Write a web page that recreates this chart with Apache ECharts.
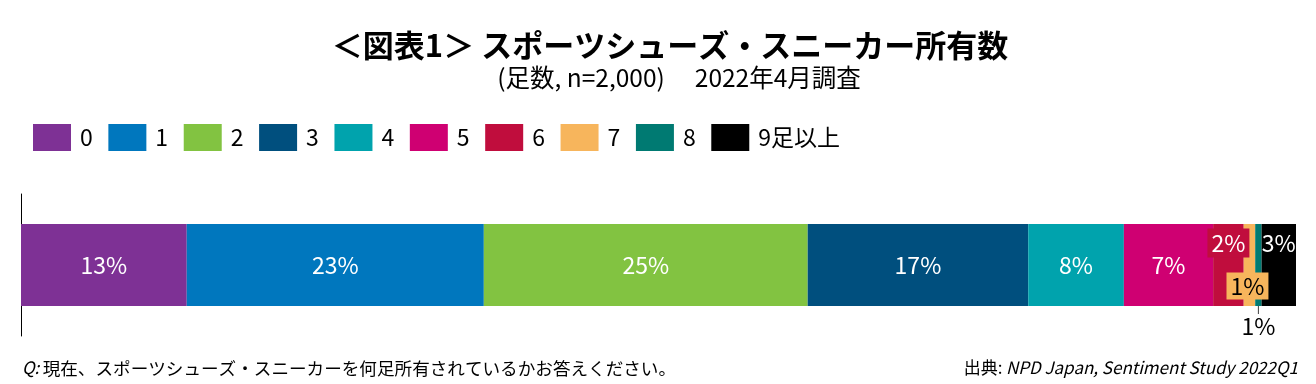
<!DOCTYPE html>
<html><head><meta charset="utf-8">
<script src="https://cdn.jsdelivr.net/npm/echarts@6/dist/echarts.min.js"></script>
<style>html,body{margin:0;padding:0;background:#fff}#c{width:1316px;height:384px}</style>
</head><body><div id="c"></div>
<script>
// ---- data ----
const categories = ['0', '1', '2', '3', '4', '5', '6', '7', '8', '9足以上'];
const values = [13.0, 23.3, 25.4, 17.3, 7.5, 7.0, 2.4, 0.9, 0.5, 2.7];
const rowNames = ['所有数'];
const titleText = '＜図表1＞ スポーツシューズ・スニーカー所有数';
const subtitleText = '(足数, n=2,000)　 2022年4月調査';
const questionText = '現在、スポーツシューズ・スニーカーを何足所有されているかお答えください。';
const sourceText = 'NPD Japan, Sentiment Study 2022Q1';

// ---- style ----
const colors = ['#7E3195', '#0077BE', '#82C341', '#004F7E', '#00A3AD', '#CF0072', '#C00D3D', '#F7B55C', '#007A72', '#000000'];
const FONT = '"Noto Sans CJK JP", "Noto Sans", sans-serif';

function labelFor(i) {
  const base = {
    show: true, position: 'inside', color: '#fff', fontSize: 23, fontFamily: FONT,
    formatter: p => Math.round(p.value) + '%'
  };
  if (i === 6) return Object.assign(base, { offset: [0, -22], backgroundColor: colors[6], padding: [3, 4, 3, 4] });
  if (i === 7) return Object.assign(base, { offset: [-2, 21], backgroundColor: colors[7], color: '#000', padding: [2, 4, 2, 4] });
  if (i === 8) return Object.assign(base, {
    position: 'bottom', distance: 0, color: '#000',
    formatter: p => '{l|}\n{t|' + Math.round(p.value) + '%}',
    rich: { l: { width: 1, height: 8, backgroundColor: '#404040' }, t: { fontSize: 23, color: '#000', fontFamily: FONT, lineHeight: 24 } }
  });
  if (i === 9) return Object.assign(base, { offset: [0, -22] });
  return base;
}

const chart = echarts.init(document.getElementById('c'), null, { renderer: 'canvas' });
chart.setOption({
  animation: false,
  color: colors,
  legend: {
    left: 28, top: 119, itemWidth: 38, itemHeight: 27, itemGap: 15.6,
    icon: 'rect',
    textStyle: { fontSize: 23, fontFamily: FONT, color: '#000', padding: [0, 0, 0, 4] },
    data: categories
  },
  grid: { left: 21, right: 20, top: 194, bottom: 48 },
  xAxis: { type: 'value', min: 0, max: 100, show: false },
  yAxis: {
    type: 'category', data: rowNames,
    axisLine: { show: true, lineStyle: { color: '#000', width: 1 } },
    axisTick: { show: false }, axisLabel: { show: false }
  },
  series: categories.map((name, i) => ({
    name, type: 'bar', stack: 'total', barWidth: 82,
    data: [values[i]],
    label: labelFor(i),
    itemStyle: { color: colors[i] }
  })),
  graphic: [
    { type: 'text', x: 670, y: 45, style: { text: titleText, fontSize: 31, fontWeight: 'bold', fontFamily: FONT, fill: '#000', textAlign: 'center', textVerticalAlign: 'middle' } },
    { type: 'text', x: 679, y: 78, style: { text: subtitleText, fontSize: 24.5, fontFamily: FONT, fill: '#000', textAlign: 'center', textVerticalAlign: 'middle' } },
    { type: 'text', x: 22, y: 368, style: {
        text: '{q|Q:} {t|' + questionText + '}', textVerticalAlign: 'middle',
        rich: { q: { fontSize: 17, fontStyle: 'italic', fontFamily: FONT, color: '#000' },
                t: { fontSize: 17.6, fontFamily: FONT, color: '#000' } } } },
    { type: 'text', x: 1298, y: 368, style: {
        text: '{a|出典:} {b|' + sourceText + '}', textAlign: 'right', textVerticalAlign: 'middle',
        rich: { a: { fontSize: 17, fontFamily: FONT, color: '#000' },
                b: { fontSize: 17, fontStyle: 'italic', fontFamily: FONT, color: '#000' } } } }
  ]
});
</script></body></html>
